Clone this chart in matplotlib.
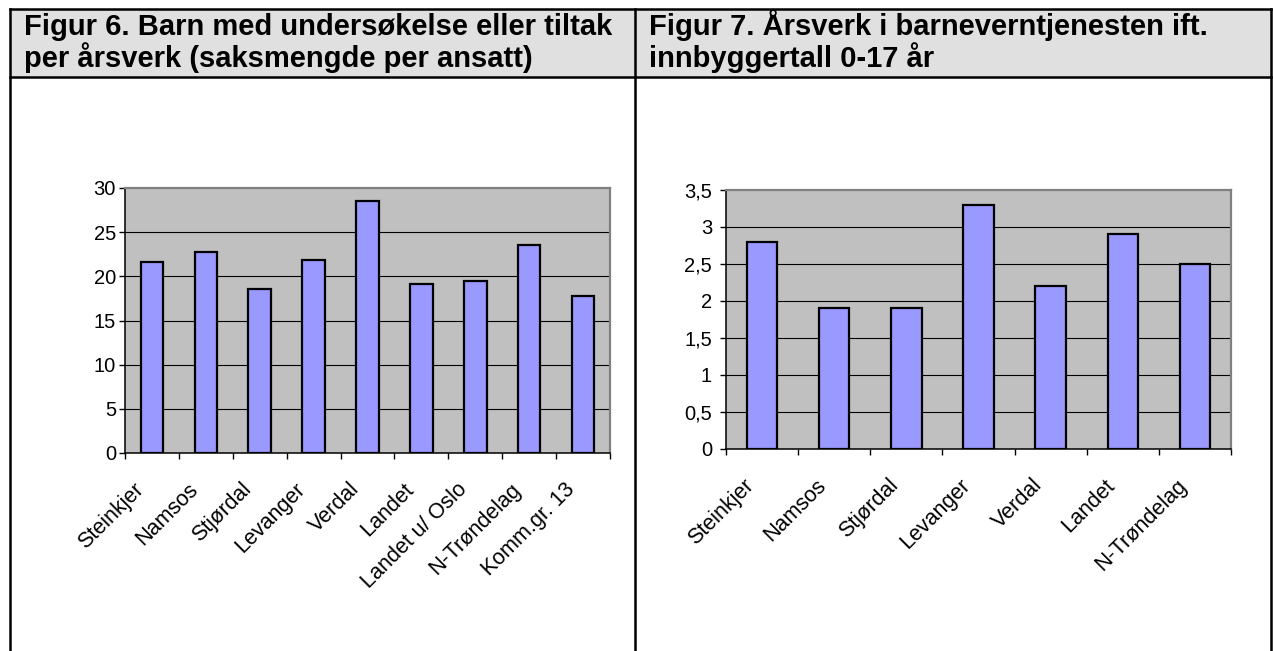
import matplotlib.pyplot as plt
from matplotlib.patches import Rectangle
from matplotlib.lines import Line2D
from matplotlib.ticker import FuncFormatter
import numpy as np

plt.rcParams['font.family'] = ['Liberation Sans', 'DejaVu Sans']

# Figur 6
kommuner_6 = ["Steinkjer", "Namsos", "Stjørdal", "Levanger", "Verdal", "Landet",
              "Landet u/ Oslo", "N-Trøndelag", "Komm.gr. 13"]
saker_per_aarsverk = [21.6, 22.7, 18.6, 21.9, 28.5, 19.1, 19.5, 23.6, 17.8]

# Figur 7
kommuner_7 = ["Steinkjer", "Namsos", "Stjørdal", "Levanger", "Verdal", "Landet",
              "N-Trøndelag"]
aarsverk_per_innb = [2.8, 1.9, 1.9, 3.3, 2.2, 2.9, 2.5]

titles = [["Figur 6. Barn med undersøkelse eller tiltak",
           "per årsverk (saksmengde per ansatt)"],
          ["Figur 7. Årsverk i barneverntjenesten ift.",
           "innbyggertall 0-17 år"]]

W, H = 1273, 651
fig = plt.figure(figsize=(W / 100, H / 100), dpi=100)


def px(x, y):
    return x / W, 1 - y / H


# table frame
fig.patches.append(Rectangle(px(10, 77), 1261 / W, 68 / H, transform=fig.transFigure,
                             facecolor="#e0e0e0", edgecolor="none", zorder=0))
for xs, ys in [((10, 1271), (9, 9)), ((10, 1271), (77, 77)), ((10, 10), (9, 651)),
               ((635, 635), (9, 651)), ((1271, 1271), (9, 651))]:
    fig.lines.append(Line2D([x / W for x in xs], [1 - y / H for y in ys],
                            transform=fig.transFigure, color="black", lw=1.8))

for x0, lines in zip([24, 649], titles):
    for yb, t in zip([35, 67], lines):
        fig.text(*px(x0, yb), t, fontsize=21, fontweight="bold", va="baseline",
                 ha="left")


def bar_chart(rect, labels, values, ymax, step, fmt, ypad):
    ax = fig.add_axes(rect)
    ax.set_facecolor("#c0c0c0")
    x = np.arange(len(labels))
    ax.bar(x, values, width=0.42, color="#9999ff", edgecolor="black", lw=1.6, zorder=3)
    ax.set_xlim(-0.5, len(labels) - 0.5)
    ax.set_ylim(0, ymax)
    ticks = np.arange(0, ymax + step / 2, step)
    ax.set_yticks(ticks)
    ax.yaxis.set_major_formatter(FuncFormatter(fmt))
    for t in ticks[1:-1]:
        ax.axhline(t, color="black", lw=0.8, zorder=1)
    # ticks between categories, labels placed by hand (Excel style)
    ax.set_xticks(np.arange(len(labels) + 1) - 0.5)
    ax.set_xticklabels([])
    for i, lab in enumerate(labels):
        ax.annotate(lab, xy=(i, 0), xycoords=("data", "axes fraction"),
                    xytext=(-8, -24), textcoords="offset points", rotation=45,
                    ha="right", va="center", rotation_mode="anchor", fontsize=15.5,
                    annotation_clip=False)
    ax.tick_params(axis="x", length=4.5, width=1, direction="out")
    ax.tick_params(axis="y", length=4.5, width=1, labelsize=14.5, pad=ypad)
    for s in ["top", "right"]:
        ax.spines[s].set_color("#808080")
        ax.spines[s].set_linewidth(1.6)
    for s in ["left", "bottom"]:
        ax.spines[s].set_color("black")
        ax.spines[s].set_linewidth(1.1)
    return ax


l1, b1 = px(125, 453)
bar_chart([l1, b1, 485 / W, 265 / H], kommuner_6, saker_per_aarsverk, 30, 5,
          lambda v, p: f"{v:g}", 2)
l2, b2 = px(726, 449)
bar_chart([l2, b2, 505 / W, 259 / H], kommuner_7, aarsverk_per_innb, 3.5, 0.5,
          lambda v, p: f"{v:g}".replace(".", ","), 5.5)

fig.savefig("out.png", dpi=100)
